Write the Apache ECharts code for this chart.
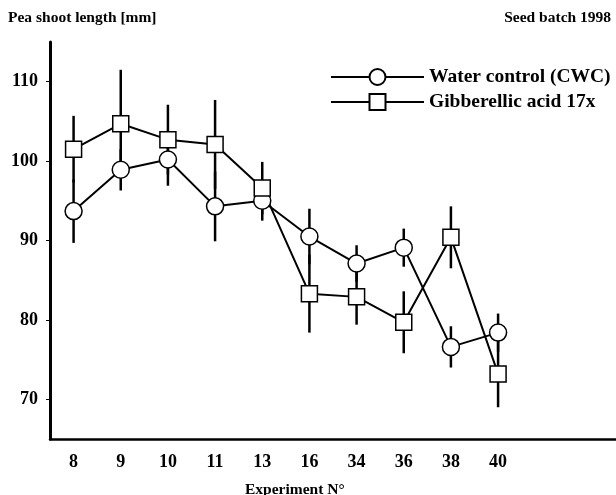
<!DOCTYPE html>
<html>
<head>
<meta charset="utf-8">
<script src="https://cdn.jsdelivr.net/npm/echarts@6/dist/echarts.min.js"></script>
<style>
  html, body { margin: 0; padding: 0; background: #fff; }
  #chart { width: 616px; height: 495px; }
</style>
</head>
<body>
<div id="chart"></div>
<script>
// experiment numbers on the x axis
const experiments = ['8', '9', '10', '11', '13', '16', '34', '36', '38', '40'];
// mean shoot length [mm]
const waterControl = [93.7, 98.9, 100.2, 94.3, 95.0, 90.5, 87.1, 89.1, 76.6, 78.4];
const gibberellic = [101.5, 104.7, 102.7, 102.1, 96.6, 83.3, 82.9, 79.7, 90.4, 73.2];
// error bar half widths
const waterErr = [4.0, 2.6, 3.3, 4.4, 2.5, 3.5, 2.3, 2.4, 2.6, 2.4];
const gibberellicErr = [4.2, 6.8, 4.4, 5.6, 3.3, 4.9, 3.5, 3.9, 3.9, 4.2];

const FONT = 'Liberation Serif';

// two empty slots keep the axis running on to the right edge
const axisCats = experiments.concat(['', '']);

function errData(vals, errs) {
  return vals.map((v, i) => [i, v - errs[i], v + errs[i]]);
}

function errBars(params, api) {
  const x = api.value(0);
  const p1 = api.coord([x, api.value(1)]);
  const p2 = api.coord([x, api.value(2)]);
  return {
    type: 'line',
    shape: { x1: p1[0], y1: p1[1], x2: p2[0], y2: p2[1] },
    style: { stroke: '#000', lineWidth: 2.5 }
  };
}

const chart = echarts.init(document.getElementById('chart'));
chart.setOption({
  animation: false,
  backgroundColor: '#fff',
  title: [
    {
      text: 'Pea shoot length [mm]',
      left: 3, top: 5,
      textStyle: { fontFamily: FONT, fontSize: 15.5, fontWeight: 'bold', color: '#000' }
    },
    {
      text: 'Seed batch 1998',
      right: 0, top: 5,
      textStyle: { fontFamily: FONT, fontSize: 15.5, fontWeight: 'bold', color: '#000' }
    },
    {
      text: 'Experiment N\u00b0',
      left: 240, top: 477,
      textStyle: { fontFamily: FONT, fontSize: 15.5, fontWeight: 'bold', color: '#000' }
    }
  ],
  legend: {
    data: ['Water control (CWC)', 'Gibberellic acid 17x'],
    orient: 'vertical',
    left: 325, top: 62,
    itemWidth: 93, itemHeight: 20,
    itemGap: 5,
    textStyle: { fontFamily: FONT, fontSize: 19.5, fontWeight: 'bold', color: '#000' }
  },
  grid: { left: 50, top: 42, width: 568, height: 397 },
  xAxis: {
    type: 'category',
    data: axisCats,
    boundaryGap: true,
    axisLine: { lineStyle: { color: '#000', width: 2.5 } },
    axisTick: {
      alignWithLabel: true,
      length: 3,
      interval: (i, v) => v !== '',
      lineStyle: { color: '#000', width: 1 }
    },
    axisLabel: {
      margin: 14,
      fontFamily: FONT, fontSize: 18, fontWeight: 'bold', color: '#000'
    },
    splitLine: { show: false }
  },
  yAxis: {
    type: 'value',
    min: 65, max: 115,
    axisLine: { show: true, lineStyle: { color: '#000', width: 3 } },
    axisTick: { show: true, length: 4, lineStyle: { color: '#000', width: 1 } },
    axisLabel: {
      showMinLabel: false, showMaxLabel: false,
      margin: 12,
      fontFamily: FONT, fontSize: 18, fontWeight: 'bold', color: '#000'
    },
    splitLine: { show: false }
  },
  series: [
    {
      type: 'custom',
      name: 'cwc-err',
      renderItem: errBars,
      data: errData(waterControl, waterErr),
      z: 1
    },
    {
      type: 'custom',
      name: 'ga-err',
      renderItem: errBars,
      data: errData(gibberellic, gibberellicErr),
      z: 1
    },
    {
      name: 'Water control (CWC)',
      type: 'line',
      data: waterControl,
      symbol: 'circle',
      symbolSize: 17,
      lineStyle: { color: '#000', width: 2 },
      itemStyle: { color: '#fff', borderColor: '#000', borderWidth: 1.5 },
      z: 3
    },
    {
      name: 'Gibberellic acid 17x',
      type: 'line',
      data: gibberellic,
      symbol: 'rect',
      symbolSize: 16,
      lineStyle: { color: '#000', width: 2 },
      itemStyle: { color: '#fff', borderColor: '#000', borderWidth: 1.5 },
      z: 3
    }
  ]
});
</script>
</body>
</html>
